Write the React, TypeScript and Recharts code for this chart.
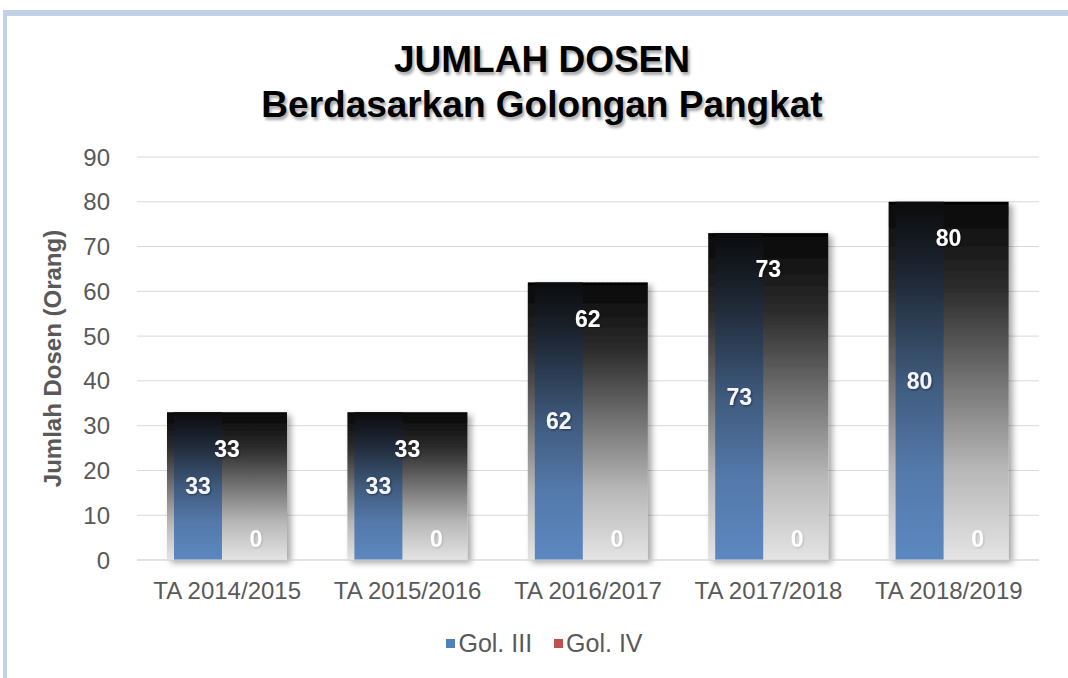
import React from 'react';
import { BarChart, Bar, XAxis, YAxis, CartesianGrid, Legend, LabelList } from 'recharts';

const categories = ['TA 2014/2015', 'TA 2015/2016', 'TA 2016/2017', 'TA 2017/2018', 'TA 2018/2019'];
const golIII = [33, 33, 62, 73, 80];
const golIV = [0, 0, 0, 0, 0];
const jumlah = [33, 33, 62, 73, 80];
const yTicks = [0, 10, 20, 30, 40, 50, 60, 70, 80, 90];

const data = categories.map((name, i) => ({ name, golIII: golIII[i], golIV: golIV[i], jumlah: jumlah[i] }));

const FONT = '"Liberation Sans", Arial, sans-serif';
const legendColors: Record<string, string> = { golIII: '#4f81bd', golIV: '#c0504d' };
const labelStyle = { fontSize: 23, fontWeight: 'bold' as const, fontFamily: FONT, filter: 'url(#tshd)' };

const ShadowRect = (props: any) => {
  const { x, y, width, height, fill } = props;
  if (!height || height <= 0) return null;
  return <rect x={x} y={y} width={width} height={height} fill={fill} filter="url(#shd)" />;
};

const ValueRect = (props: any) => {
  const { x, y, width, height, fill, payload } = props;
  if (!payload || !(payload.golIV > 0)) return <g />;
  return <rect x={x} y={y} width={width} height={height} fill={fill} />;
};

const LegendContent = (props: any) => {
  const payload = (props.payload || []).filter((p: any) => p.type !== 'none');
  return (
    <div style={{ display: 'flex', justifyContent: 'center', alignItems: 'center', height: 30, paddingLeft: 72, fontFamily: FONT, fontSize: 25, color: '#595959' }}>
      {payload.map((p: any) => (
        <div key={p.dataKey} style={{ display: 'flex', alignItems: 'center', marginRight: 22 }}>
          <span style={{ display: 'inline-block', width: 9, height: 9, background: legendColors[p.dataKey as string], marginRight: 3 }} />
          <span>{p.value}</span>
        </div>
      ))}
    </div>
  );
};

export default function App() {
  return (
    <div style={{ position: 'absolute', left: 0, top: 0, width: 1068, height: 678, overflow: 'hidden', background: '#fff' }}>
      <div style={{ position: 'absolute', left: 3, top: 10, width: 1100, height: 700, borderTop: '6px solid #c3d1e6', borderLeft: '4px solid #c3d1e6', background: '#fff' }} />
      <BarChart
        width={1068}
        height={678}
        data={data}
        margin={{ top: 157, right: 29, bottom: 20, left: 0 }}
        barGap={10}
        style={{ position: 'absolute', left: 0, top: 0 }}
      >
        <defs>
          <linearGradient id="gBg" x1="0" y1="0" x2="0" y2="1">
            <stop offset="0" stopColor="#050505" />
            <stop offset="0.25" stopColor="#2e2e2e" />
            <stop offset="0.5" stopColor="#737373" />
            <stop offset="0.75" stopColor="#b8b8b8" />
            <stop offset="1" stopColor="#e4e4e4" />
          </linearGradient>
          <linearGradient id="gBlue" x1="0" y1="0" x2="0" y2="1">
            <stop offset="0" stopColor="#0b0b0c" />
            <stop offset="0.2" stopColor="#1d2633" />
            <stop offset="0.5" stopColor="#3f5a7c" />
            <stop offset="0.75" stopColor="#5479ab" />
            <stop offset="1" stopColor="#5c88c0" />
          </linearGradient>
          <filter id="shd" x="-10%" y="-10%" width="130%" height="130%">
            <feDropShadow dx="4" dy="3" stdDeviation="3" floodColor="#000" floodOpacity="0.35" />
          </filter>
          <filter id="tshd" x="-20%" y="-20%" width="150%" height="150%">
            <feDropShadow dx="1" dy="1" stdDeviation="1" floodColor="#000" floodOpacity="0.45" />
          </filter>
          <filter id="tshd0" x="-20%" y="-20%" width="150%" height="150%">
            <feDropShadow dx="1" dy="1" stdDeviation="1" floodColor="#000" floodOpacity="0.15" />
          </filter>
        </defs>
        <CartesianGrid vertical={false} stroke="#d9d9d9" />
        <XAxis
          dataKey="name"
          interval={0}
          tickLine={false}
          tickSize={0}
          axisLine={{ stroke: '#d9d9d9' }}
          tickMargin={22}
          height={68}
          tick={{ fill: '#595959', fontSize: 24, fontFamily: FONT }}
        />
        <XAxis xAxisId="bg" dataKey="name" hide />
        <YAxis
          domain={[0, 90]}
          ticks={yTicks}
          width={137}
          tickLine={false}
          tickSize={0}
          axisLine={false}
          tickMargin={27}
          tick={{ fill: '#595959', fontSize: 24, fontFamily: FONT }}
          label={{
            value: 'Jumlah Dosen (Orang)',
            angle: -90,
            position: 'insideLeft',
            offset: 52,
            style: { textAnchor: 'middle', fill: '#595959', fontSize: 24, fontWeight: 'bold', fontFamily: FONT },
          }}
        />
        <Bar xAxisId="bg" dataKey="jumlah" barSize={120} fill="url(#gBg)" legendType="none" shape={ShadowRect} isAnimationActive={false}>
          <LabelList dataKey="jumlah" position="insideTop" offset={28} fill="#ffffff" style={labelStyle} />
        </Bar>
        <Bar dataKey="golIII" name="Gol. III" barSize={48} fill="url(#gBlue)" isAnimationActive={false}>
          <LabelList dataKey="golIII" position="center" fill="#f4f6fa" style={labelStyle} />
        </Bar>
        <Bar dataKey="golIV" name="Gol. IV" barSize={48} minPointSize={1} fill="#c0504d" shape={ValueRect} isAnimationActive={false}>
          <LabelList dataKey="golIV" position="insideBottom" offset={13} fill="#ffffff" style={{ ...labelStyle, filter: 'url(#tshd0)' }} />
        </Bar>
        <Legend verticalAlign="bottom" content={LegendContent} />
      </BarChart>
      <div
        style={{
          position: 'absolute',
          left: 0,
          top: 37,
          width: 1084,
          textAlign: 'center',
          fontFamily: FONT,
          fontWeight: 'bold',
          fontSize: 37,
          lineHeight: '45px',
          color: '#000',
          textShadow: '2px 3px 3px rgba(0,0,0,0.35)',
        }}
      >
        <div>JUMLAH DOSEN</div>
        <div>Berdasarkan Golongan Pangkat</div>
      </div>
    </div>
  );
}
